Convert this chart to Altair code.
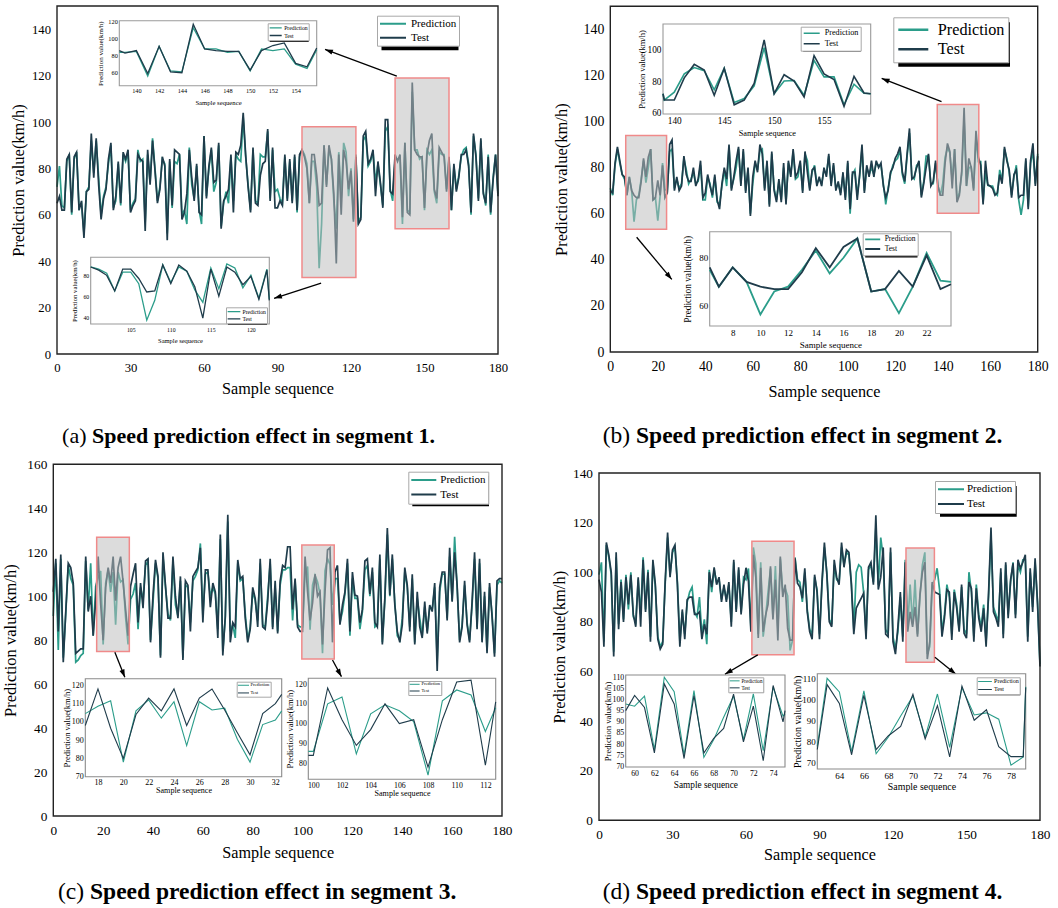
import math
import altair as alt
import pandas as pd

FONT = "Liberation Serif"
GREEN = "#2b9d8a"
DARK = "#1f3c4b"
W, H = 1058, 908
SERIES = ["Prediction", "Test"]

# ---------------------------------------------------------------- data
a_test = [65, 68, 62, 62, 84, 86, 61, 85, 87, 62,
          66, 50, 70, 71, 95, 76, 93, 73, 58, 67,
          71, 84, 91, 62, 68, 83, 65, 87, 84, 88,
          61, 64, 66, 86, 84, 83, 53, 88, 73, 92,
          79, 65, 71, 85, 81, 49, 84, 64, 88, 87,
          86, 58, 61, 69, 88, 76, 66, 82, 61, 60,
          94, 67, 81, 89, 74, 75, 91, 54, 66, 68,
          71, 86, 61, 87, 86, 90, 104, 86, 72, 61,
          89, 65, 64, 77, 82, 83, 97, 66, 89, 63,
          63, 66, 64, 86, 66, 84, 65, 86, 62, 86,
          88, 85, 80, 65, 86, 86, 77, 64, 65, 90,
          72, 90, 84, 69, 39, 86, 60, 88, 83, 71,
          79, 57, 85, 56, 58, 94, 96, 82, 84, 88,
          68, 83, 74, 63, 101, 101, 70, 69, 86, 83,
          86, 59, 91, 61, 60, 117, 88, 86, 85, 85,
          63, 86, 92, 95, 71, 67, 89, 87, 85, 70,
          85, 62, 82, 70, 76, 86, 86, 88, 81, 61,
          95, 85, 66, 93, 69, 65, 85, 61, 75, 86, 68]
a_pred = [72, 81, 64, 63, 83, 86, 60, 84, 87, 63,
          65, 52, 70, 72, 92, 78, 92, 76, 60, 68,
          72, 82, 90, 63, 66, 82, 64, 86, 83, 87,
          62, 65, 67, 88, 83, 84, 57, 86, 74, 93,
          80, 66, 72, 84, 82, 52, 83, 63, 83, 82,
          86, 60, 62, 56, 89, 73, 67, 81, 62, 56,
          94, 68, 80, 88, 70, 74, 90, 55, 65, 70,
          65, 85, 66, 86, 84, 83, 102, 85, 73, 62,
          88, 66, 65, 86, 85, 85, 96, 67, 88, 70,
          71, 67, 65, 85, 67, 83, 66, 85, 61, 85,
          88, 86, 82, 65, 83, 83, 72, 37, 56, 90,
          73, 88, 84, 66, 54, 87, 67, 91, 87, 68,
          80, 58, 86, 57, 59, 92, 94, 81, 83, 87,
          74, 82, 73, 64, 96, 98, 71, 66, 84, 84,
          85, 56, 91, 62, 61, 113, 88, 88, 84, 85,
          62, 88, 86, 88, 70, 65, 87, 86, 86, 71,
          84, 62, 81, 71, 77, 85, 88, 89, 82, 60,
          94, 86, 67, 92, 70, 64, 86, 60, 76, 86, 69]

b_test = [70, 69, 82, 89, 83, 77, 76, 68, 76, 70,
          68, 67, 67, 74, 84, 76, 84.5, 88, 66, 67,
          74.5, 68, 81, 67, 69, 90, 92, 70, 76, 70,
          72, 85, 77, 74, 74, 80, 72, 75, 83, 67,
          69, 77, 72, 68, 77, 66, 62, 73, 80, 75,
          90, 70, 76, 83, 89, 72, 88, 69, 80, 59,
          76, 83, 78, 90, 86, 70, 83, 63, 87, 70,
          65, 75, 65, 82, 64, 83, 76, 88, 76, 78,
          83, 69, 87, 78, 70, 79, 80, 72, 76, 72,
          80, 76, 86, 72, 82, 70, 74, 68, 78, 66,
          83, 62, 78, 78, 66, 77, 90, 69, 81, 76,
          83, 76, 83, 80, 82, 72, 67, 70, 78, 80,
          84, 86, 89, 78, 74, 86, 97, 75, 76, 80,
          83, 67, 73, 80, 86, 72, 74, 83, 72, 68,
          68, 82, 90.5, 87, 71, 88, 65, 68, 78.5, 106,
          72, 84, 80, 70, 96, 84.5, 81, 64, 83, 72.5,
          72, 71, 68, 69, 77, 73, 89, 83, 79, 67,
          77, 79, 67, 68, 68, 84, 62, 83, 90.5, 72, 85]
b_pred = [71, 68, 81, 88, 82, 77, 75, 68, 76, 70,
          56.5, 66, 68, 75, 83, 73.5, 80, 88, 66, 67,
          57, 68, 82, 70.5, 70, 87, 88, 71, 75, 71,
          73, 84, 79, 73, 75, 78, 73, 74, 81, 66,
          66, 76, 73, 67, 76, 65, 64, 72, 79, 72,
          89, 71, 75, 80, 88, 73, 87, 70, 79, 60,
          73, 82, 79, 87, 88, 71, 82, 64, 86, 71,
          66, 74, 66, 80, 65, 82, 77, 87, 75, 76,
          82, 70, 86, 83, 71, 78, 81, 73, 75, 73,
          79, 77, 85, 73, 81, 71, 73, 69, 77, 67,
          82, 60, 77, 79, 68, 76, 88, 70, 80, 77,
          80, 77, 82, 81, 81, 73, 64, 71, 77, 81,
          83, 84, 88, 77, 73, 85, 95, 76, 75, 81,
          82, 68, 74, 85, 85, 73, 73, 82, 72, 68,
          73, 84.5, 88.5, 86.5, 74.5, 88, 66.5, 69, 77, 101,
          72, 80, 80.3, 71, 93, 82.6, 82.6, 65, 78, 72.3,
          72, 72, 69, 68, 79, 74, 88, 84, 78, 68,
          76, 81, 66, 59.5, 66, 83, 63, 82, 87, 73, 86]

c_test = [102, 117, 84, 119, 70, 93, 115, 113, 106, 74,
          75, 76, 76, 118, 93, 100, 82, 98, 118, 96.5,
          80, 104, 113, 106, 118, 98, 113, 118, 106.5, 94,
          82, 104.5, 110, 115, 88, 106, 94.5, 116, 117, 79,
          100.5, 116.5, 109, 72, 120, 105, 90, 90, 118, 100,
          90, 109, 71, 107, 105, 84, 109, 111, 113, 122,
          88, 112, 112, 95, 106, 102, 81, 128, 73, 91,
          137, 79, 88, 86, 116.5, 108, 109, 90, 79, 85,
          104, 99, 86, 117, 86, 85, 97.5, 117, 85, 107,
          83, 107, 114, 113, 122.5, 122.5, 94, 108, 86, 84,
          84, 118, 102, 89, 97, 110, 100, 102, 78, 102,
          121, 122, 79, 111, 114, 87, 96, 102, 117, 84,
          111, 100.5, 100, 88, 94, 116, 117, 101, 113, 88,
          86, 119, 78, 99, 131, 100.5, 119, 96, 84, 79,
          87, 113, 105, 84, 110, 78, 102, 86, 81, 97.5,
          83, 96, 93, 106, 66, 104, 111, 111, 89, 122,
          97.5, 120, 105, 79, 86, 107, 87, 79, 97.5, 120,
          85, 117, 79, 102, 74, 106, 91, 72.5, 107, 108, 108]
c_pred = [91, 115, 75.5, 117, 72, 92, 114, 108, 105, 70,
          71, 73, 74, 116, 94, 115, 82, 104.5, 108.5, 111.5,
          78, 106, 112, 102, 111, 87, 111, 106.5, 107.5, 90.5,
          78, 98.5, 101, 106, 85, 104, 98, 114, 116, 80,
          97, 115, 108, 73, 118, 104, 92, 89, 116, 96,
          91, 107, 72, 105, 104, 88, 107, 109, 112, 124,
          91, 110, 111, 100, 104, 101, 85, 126, 75, 90,
          134, 84, 87, 81, 115, 107, 108, 92, 80, 86,
          102, 98, 89, 115, 87, 86, 100, 115, 86, 104,
          84, 105, 112, 112, 113, 113, 89, 107, 87, 86,
          86, 110, 113.5, 84.7, 105, 109.5, 106.5, 101, 74, 111.5,
          117, 114.5, 96, 108, 108, 88, 93, 101, 115, 82,
          108, 99, 99, 85, 93, 112, 114, 100, 111, 86,
          87, 117, 79, 98, 128, 100, 117, 97, 82, 80,
          90, 111, 104, 86, 108, 79, 99, 90, 82, 95,
          84, 95, 94, 104, 71, 102, 110, 110, 90, 118,
          98, 127, 104, 80, 87, 105, 88, 80, 96, 117,
          86, 115, 80, 100, 75, 104, 92, 74, 105, 107, 106]

d_test = [97, 92, 70, 112, 107, 100, 66, 108, 77, 96,
          80, 98, 87, 99, 83, 78, 98, 78, 105, 84,
          100, 72, 105, 95, 73, 69, 71, 96, 116, 98,
          109, 111, 95, 70, 85, 73, 89, 90, 90, 83,
          83, 84, 73, 79, 75, 100, 94, 102, 95, 98,
          88, 95, 88, 96, 78, 105, 84, 102, 83, 95,
          101.8, 96.4, 76, 107, 98, 73.5, 101.8, 76, 82.6, 87,
          102.4, 81, 97, 72.5, 106.3, 90, 95, 77.4, 72.6, 72.6,
          105.6, 95.6, 94, 89.5, 101.6, 84, 76, 73, 99, 92,
          73, 96, 112, 99, 80, 78, 105, 98, 95, 112,
          102, 109, 108, 95, 75, 85.5, 87.5, 89.5, 91.5, 73,
          102, 104, 95, 123, 93, 98, 110, 75, 74, 110,
          72, 67, 78, 92, 72, 104, 76, 84, 78, 86,
          74, 91, 100, 104, 65, 72, 96, 92, 91.5, 91,
          74, 81.5, 93, 92, 72.7, 92, 85.5, 76, 95, 75.4,
          73.4, 96, 93.5, 72, 93.5, 81.5, 76, 85.5, 70, 91.5,
          118, 84, 81.5, 78, 101.6, 73.4, 104, 81.5, 97, 103.6,
          81.5, 105, 101.6, 104, 107, 72, 101.6, 84, 105.6, 87, 62]
d_pred = [99, 104, 72, 111, 106, 99, 68, 106, 79, 97,
          81, 99, 85, 100, 82, 80, 97, 83, 106, 85,
          101, 74, 104, 94, 74, 70, 72, 95, 114, 99,
          108, 110, 96, 72, 84, 75, 88, 92, 94, 84,
          82, 90, 75, 81, 71, 101, 92, 101, 96, 97,
          89, 94, 89, 95, 80, 104, 85, 101, 84, 98,
          97, 101.5, 77.5, 110, 103.5, 75, 104, 74, 82, 92,
          101.5, 82, 102.5, 77, 105.5, 92.5, 93.5, 90.5, 68.5, 72.5,
          106, 97, 96, 88, 100, 85, 77, 75, 98, 93,
          75, 95, 110, 100, 81, 79, 103, 97, 96, 110,
          103, 108, 107, 96, 77, 100, 103, 102, 92, 75,
          101, 103, 96, 118, 95, 114, 106, 77, 75, 108,
          74, 69, 76, 90, 74, 105, 78, 95, 79, 97,
          75, 90, 103, 108, 67, 70, 95, 97, 101.6, 93,
          76, 83, 95, 90, 75, 93, 87, 77, 94, 77,
          75, 100, 92, 74, 95, 83, 78, 87, 72, 90,
          115, 86, 83, 80, 100, 75, 103, 83, 96, 104,
          83, 103, 100, 105, 105, 74, 100, 86, 104, 88, 63]

# zoom boxes (sample from, sample to, km/h from, km/h to) and arrows (start -> end)
a_boxes = [(100, 122, 33, 98), (138, 160, 54, 119)]
a_arrows = [(138.7, 119.8, 109.4, 131.3), (107.8, 30.5, 88.6, 24.0)]
b_boxes = [(6.5, 23.7, 53.2, 93.9), (137.7, 155.2, 60.2, 107.4)]
b_arrows = [(139.5, 108.6, 114.3, 118.7), (11.1, 49.8, 25.9, 31.5)]
c_boxes = [(17.4, 30.5, 74.8, 126.8), (99.7, 112.7, 71.4, 123.3)]
c_arrows = [(24.7, 74.5, 28.7, 63.1), (112.0, 71.0, 115.6, 63.4)]
d_boxes = [(62.4, 79.6, 66.7, 112.5), (125.3, 136.9, 63.7, 109.8)]
d_arrows = [(64.8, 66.7, 51.4, 58.9), (137.1, 65.7, 145.7, 58.9)]

# ---------------------------------------------------------------- layout
MAIN = [
    dict(test=a_test, pred=a_pred, boxes=a_boxes, arrows=a_arrows,
         x0=57, x1=498, yb=354, yt=6, ymax=150, xstep=30, ytop=140, fs=12.7,
         xtitle_y=388, ytitle_x=18,
         legend=dict(x=377, y=15.7, w=77, h=30, fs=11, sym=26, off=4, pad=2, clip=12, row=2, sw=2, shadow=4.5),
         cap=("(a)", "Speed prediction effect in segment 1.", 92, 436, 22)),
    dict(test=b_test, pred=b_pred, boxes=b_boxes, arrows=b_arrows,
         x0=610.3, x1=1037.7, yb=352, yt=6.25, ymax=150, xstep=20, ytop=140, fs=13.8,
         xtitle_y=391.7, ytitle_x=561.7,
         legend=dict(x=893.3, y=17.3, w=111.7, h=44.4, fs=16.2, sym=30, off=8, pad=3.5, clip=18, row=1.4, sw=2.5, shadow=5),
         cap=("(b)", "Speed prediction effect in segment 2.", 636, 436, 23.5)),
    dict(test=c_test, pred=c_pred, boxes=c_boxes, arrows=c_arrows,
         x0=53.3, x1=502, yb=816, yt=464.3, ymax=160, xstep=20, ytop=160, fs=13.3,
         xtitle_y=852.3, ytitle_x=10,
         legend=dict(x=408.3, y=471.7, w=76.7, h=30.6, fs=11, sym=25, off=3, pad=2, clip=12.5, row=1.6, sw=2, shadow=4),
         cap=("(c)", "Speed prediction effect in segment 3.", 90, 892, 23.5)),
    dict(test=d_test, pred=d_pred, boxes=d_boxes, arrows=d_arrows,
         x0=599, x1=1040, yb=820.3, yt=473, ymax=140, xstep=30, ytop=140, fs=13.3,
         xtitle_y=854.3, ytitle_x=559.3,
         legend=dict(x=935, y=481, w=76.7, h=30.7, fs=11, sym=26, off=2, pad=2, clip=12.5, row=1.7, sw=2, shadow=5),
         cap=("(d)", "Speed prediction effect in segment 4.", 636, 892, 23.5)),
]

INSETS = [
    dict(test=a_test, pred=a_pred, xdom=(138.5, 155.85), ydom=(44.7, 121.2),
         px=(119.3, 316.7), py=(85.7, 20.7), xt=list(range(140, 155, 2)), yt=[60, 80, 100, 120],
         fs=6.3, tfs=6.7, ytfs=7, xtitle_y=102.3, ytitle_x=100, sw=1.3, edge="#9a9a9a",
         legend=dict(x=267.7, y=23.3, w=39, h=16.7, fs=5.7, sym=12, off=1.5, pad=1, clip=7, row=0.7, sw=1.3, shadow=2)),
    dict(test=a_test, pred=a_pred, xdom=(100, 122.3), ydom=(33.3, 97.3),
         px=(90.7, 269.3), py=(324, 257.3), xt=[105, 110, 115, 120], yt=[40, 60, 80],
         fs=5.8, tfs=6.5, ytfs=6.7, xtitle_y=340.3, ytitle_x=74, sw=1.3, edge="#9a9a9a",
         legend=dict(x=226, y=307.3, w=39, h=15.4, fs=5.7, sym=12.7, off=1.5, pad=1, clip=6.5, row=0.4, sw=1.3, shadow=2)),
    dict(test=b_test, pred=b_pred, xdom=(138.87, 159.67), ydom=(59.2, 116),
         px=(663, 870.7), py=(114, 24), xt=[140, 145, 150, 155], yt=[60, 80, 100],
         fs=9.3, tfs=8.3, ytfs=8.5, xtitle_y=133.3, ytitle_x=641, sw=1.6, edge="#9a9a9a",
         legend=dict(x=800.7, y=26.7, w=57.6, h=22.6, fs=8.2, sym=16, off=4, pad=2, clip=9, row=0.6, sw=1.6, shadow=2.5)),
    dict(test=b_test, pred=b_pred, xdom=(6.34, 23.76), ydom=(51.7, 90.8),
         px=(709.7, 951), py=(326, 231.7), xt=list(range(8, 23, 2)), yt=[60, 80],
         fs=9, tfs=9, ytfs=9.4, xtitle_y=344, ytitle_x=687.7, sw=1.8, edge="#9a9a9a",
         legend=dict(x=862.7, y=233.3, w=52.3, h=21.7, fs=7.5, sym=15, off=3.5, pad=1.5, clip=9, row=0.7, sw=1.8, shadow=2.5)),
    dict(test=c_test, pred=c_pred, xdom=(17, 32.5), ydom=(70, 123.6),
         px=(85.3, 281.7), py=(776.7, 678.7), xt=list(range(18, 33, 2)), yt=[70, 80, 90, 100, 110, 120],
         fs=8, tfs=8.1, ytfs=8.5, xtitle_y=790.7, ytitle_x=66, sw=1.1, edge="#8a8a8a",
         legend=dict(x=236.7, y=681.7, w=32.6, h=13.3, fs=4.6, sym=11, off=1, pad=0.8, clip=5.5, row=0.7, sw=1, shadow=1.5)),
    dict(test=c_test, pred=c_pred, xdom=(99.65, 112.72), ydom=(71.9, 122.9),
         px=(308.3, 495.7), py=(779.3, 678.3), xt=list(range(100, 113, 2)), yt=[80, 90, 100, 110, 120],
         fs=7.8, tfs=8.1, ytfs=8.5, xtitle_y=793.7, ytitle_x=289.3, sw=1.1, edge="#8a8a8a",
         legend=dict(x=408.3, y=681, w=31.7, h=12.3, fs=4.5, sym=10, off=1.5, pad=0.8, clip=5, row=0.7, sw=1, shadow=1.5)),
    dict(test=d_test, pred=d_pred, xdom=(59.1, 75.2), ydom=(69.7, 111),
         px=(625.7, 785), py=(767, 675), xt=list(range(60, 75, 2)), yt=list(range(70, 111, 5)),
         fs=7.8, tfs=9.3, ytfs=8.6, xtitle_y=784.3, ytitle_x=607.3, sw=1.1, edge="#8a8a8a",
         legend=dict(x=728.3, y=677.3, w=34, h=13.7, fs=5.1, sym=10, off=1.4, pad=0.8, clip=5.5, row=1, sw=1, shadow=1.5)),
    dict(test=d_test, pred=d_pred, xdom=(62.2, 79.2), ydom=(66.7, 112.2),
         px=(817.3, 1025.7), py=(769, 673.7), xt=list(range(64, 79, 2)), yt=[70, 80, 90, 100, 110],
         fs=9, tfs=9.9, ytfs=10, xtitle_y=786.7, ytitle_x=797.7, sw=1.1, edge="#8a8a8a",
         legend=dict(x=976.7, y=677.3, w=41.6, h=16, fs=6, sym=13.7, off=1.6, pad=0.8, clip=6.7, row=1, sw=1.1, shadow=2)),
]


# ---------------------------------------------------------------- helpers
def scale(dom, rng, clamp=False):
    return alt.Scale(domain=list(dom), range=list(rng), nice=False, zero=False, clamp=clamp)


def series_frame(test, pred, lo, hi):
    idx = [i for i in range(len(test)) if lo <= i <= hi]
    return pd.DataFrame({
        "sample": idx + idx,
        "value": [pred[i] for i in idx] + [test[i] for i in idx],
        "series": ["Prediction"] * len(idx) + ["Test"] * len(idx),
    })


def legend(cfg):
    return alt.Legend(orient="none", legendX=cfg["x"], legendY=cfg["y"], title=None,
                      symbolType="stroke", symbolSize=cfg["sym"] ** 2, symbolStrokeWidth=cfg["sw"],
                      symbolOffset=0, labelFont=FONT, labelFontSize=cfg["fs"], labelColor="black",
                      labelOffset=cfg["off"], padding=cfg["pad"], rowPadding=cfg["row"],
                      clipHeight=cfg["clip"], fillColor="white", strokeColor="#a8a8a8",
                      labelLimit=400)


def color(cfg):
    return alt.Color("series:N", scale=alt.Scale(domain=SERIES, range=[GREEN, DARK]), legend=legend(cfg))


layers = []
shadows = []

# ---------------------------------------------------------------- main panels
for p in MAIN:
    xs = scale((0, 180), (p["x0"], p["x1"]))
    ys = scale((0, p["ymax"]), (p["yb"], p["yt"]))
    xaxis = alt.Axis(orient="bottom", offset=p["yb"] - H, values=list(range(0, 181, p["xstep"])),
                     ticks=False, domain=False, grid=False, labelFont=FONT, labelFontSize=p["fs"],
                     labelColor="black", labelPadding=7, labelFlush=False, labelOverlap=False,
                     title="Sample sequence", titleFont=FONT, titleFontSize=16.2, titleFontWeight="normal",
                     titleColor="black", titleX=(p["x0"] + p["x1"]) / 2, titleY=p["xtitle_y"] - p["yb"],
                     titleBaseline="middle", titleAlign="center")
    yaxis = alt.Axis(orient="left", offset=-p["x0"], values=list(range(0, p["ytop"] + 1, 20)),
                     ticks=False, domain=False, grid=False, labelFont=FONT, labelFontSize=p["fs"],
                     labelColor="black", labelPadding=6.5, labelFlush=False, labelOverlap=False,
                     title="Prediction value(km/h)", titleFont=FONT, titleFontSize=16.5,
                     titleFontWeight="normal", titleColor="black", titleAngle=270,
                     titleX=p["ytitle_x"] - p["x0"], titleY=(p["yb"] + p["yt"]) / 2,
                     titleBaseline="middle", titleAlign="center")
    df = series_frame(p["test"], p["pred"], 0, 180)
    layers.append(alt.Chart(df).mark_line(strokeWidth=1.7).encode(
        x=alt.X("sample:Q", scale=xs, axis=xaxis),
        y=alt.Y("value:Q", scale=ys, axis=yaxis),
        color=color(p["legend"])))

    bx = pd.DataFrame(p["boxes"], columns=["s0", "s1", "v0", "v1"])
    layers.append(alt.Chart(bx).mark_rect(fill="#bdbdbd", fillOpacity=0.53, stroke="#f08a8a",
                                           strokeWidth=1.5).encode(
        x=alt.X("s0:Q", scale=xs, axis=None), x2="s1:Q",
        y=alt.Y("v0:Q", scale=ys, axis=None), y2="v1:Q"))

    fr = pd.DataFrame([{"s0": 0, "s1": 180, "v0": 0, "v1": p["ymax"]}])
    layers.append(alt.Chart(fr).mark_rect(fillOpacity=0, stroke="#222222", strokeWidth=1.4).encode(
        x=alt.X("s0:Q", scale=xs, axis=None), x2="s1:Q",
        y=alt.Y("v0:Q", scale=ys, axis=None), y2="v1:Q"))

    kx = (p["x1"] - p["x0"]) / 180.0
    ky = (p["yb"] - p["yt"]) / p["ymax"]
    rows = []
    for (sx, sy, ex, ey) in p["arrows"]:
        dx = (ex - sx) * kx
        dy = -(ey - sy) * ky
        ang = math.degrees(math.atan2(dx, -dy)) % 360
        rows.append({"sx": sx, "sy": sy, "ex": ex, "ey": ey, "ang": ang})
    ar = pd.DataFrame(rows)
    layers.append(alt.Chart(ar).mark_rule(color="black", strokeWidth=1.3).encode(
        x=alt.X("sx:Q", scale=xs, axis=None), x2="ex:Q",
        y=alt.Y("sy:Q", scale=ys, axis=None), y2="ey:Q"))
    layers.append(alt.Chart(ar).mark_point(shape="M0,0L0.5,1.5L-0.5,1.5Z", filled=True, color="black",
                                           opacity=1, size=110, strokeWidth=0).encode(
        x=alt.X("ex:Q", scale=xs, axis=None),
        y=alt.Y("ey:Q", scale=ys, axis=None),
        angle=alt.Angle("ang:Q", scale=None)))

    lg = p["legend"]
    shadows.append({"x": lg["x"] + lg["shadow"], "x2": lg["x"] + lg["w"] + lg["shadow"],
                    "y": lg["y"] + lg["shadow"], "y2": lg["y"] + lg["h"] + lg["shadow"]})

# ---------------------------------------------------------------- insets
for s in INSETS:
    xs = scale(s["xdom"], s["px"], clamp=True)
    ys = scale(s["ydom"], s["py"])
    bg = pd.DataFrame([{"s0": s["xdom"][0], "s1": s["xdom"][1], "v0": s["ydom"][0], "v1": s["ydom"][1]}])
    layers.append(alt.Chart(bg).mark_rect(fill="white", stroke=s["edge"], strokeWidth=1.1).encode(
        x=alt.X("s0:Q", scale=xs, axis=None), x2="s1:Q",
        y=alt.Y("v0:Q", scale=ys, axis=None), y2="v1:Q"))
    xaxis = alt.Axis(orient="bottom", offset=s["py"][0] - H, values=s["xt"], ticks=False, domain=False,
                     grid=False, labelFont=FONT, labelFontSize=s["fs"], labelColor="black", labelPadding=2,
                     labelFlush=False, labelOverlap=False, title="Sample sequence", titleFont=FONT,
                     titleFontSize=s["tfs"], titleFontWeight="normal", titleColor="black",
                     titleX=(s["px"][0] + s["px"][1]) / 2, titleY=s["xtitle_y"] - s["py"][0],
                     titleBaseline="middle", titleAlign="center", zindex=1)
    yaxis = alt.Axis(orient="left", offset=-s["px"][0], values=s["yt"], ticks=False, domain=False,
                     grid=False, labelFont=FONT, labelFontSize=s["fs"], labelColor="black", labelPadding=2,
                     labelFlush=False, labelOverlap=False, title="Prediction value(km/h)", titleFont=FONT,
                     titleFontSize=s["ytfs"], titleFontWeight="normal", titleColor="black", titleAngle=270,
                     titleX=s["ytitle_x"] - s["px"][0], titleY=(s["py"][0] + s["py"][1]) / 2,
                     titleBaseline="middle", titleAlign="center", zindex=1)
    lo = math.floor(s["xdom"][0])
    hi = math.ceil(s["xdom"][1])
    df = series_frame(s["test"], s["pred"], lo, hi)
    layers.append(alt.Chart(df).mark_line(strokeWidth=s["sw"]).encode(
        x=alt.X("sample:Q", scale=xs, axis=xaxis),
        y=alt.Y("value:Q", scale=ys, axis=yaxis),
        color=color(s["legend"])))
    lg = s["legend"]
    shadows.append({"x": lg["x"] + lg["shadow"], "x2": lg["x"] + lg["w"] + lg["shadow"],
                    "y": lg["y"] + lg["shadow"], "y2": lg["y"] + lg["h"] + lg["shadow"]})

# legend shadows (drawn beneath the legends)
layers.append(alt.Chart(pd.DataFrame(shadows)).mark_rect(color="black").encode(
    x=alt.X("x:Q", scale=None), x2="x2:Q", y=alt.Y("y:Q", scale=None), y2="y2:Q"))

# captions
for p in MAIN:
    tag, body, xb, yc, size = p["cap"]
    layers.append(alt.Chart(pd.DataFrame([{"t": body}])).mark_text(
        font=FONT, fontSize=size, fontWeight="bold", align="left", baseline="middle", color="black").encode(
        x=alt.value(xb), y=alt.value(yc), text="t:N"))
    layers.append(alt.Chart(pd.DataFrame([{"t": tag}])).mark_text(
        font=FONT, fontSize=size, fontWeight="normal", align="right", baseline="middle", color="black").encode(
        x=alt.value(xb - size * 0.25), y=alt.value(yc), text="t:N"))

chart = alt.layer(*layers).resolve_scale(
    x="independent", y="independent", color="independent"
).properties(
    width=W, height=H, padding=0, background="white",
    autosize=alt.AutoSizeParams(type="none"),
).configure_view(strokeWidth=0)

chart.save("out.html", embed_options={"renderer": "svg", "actions": False})
